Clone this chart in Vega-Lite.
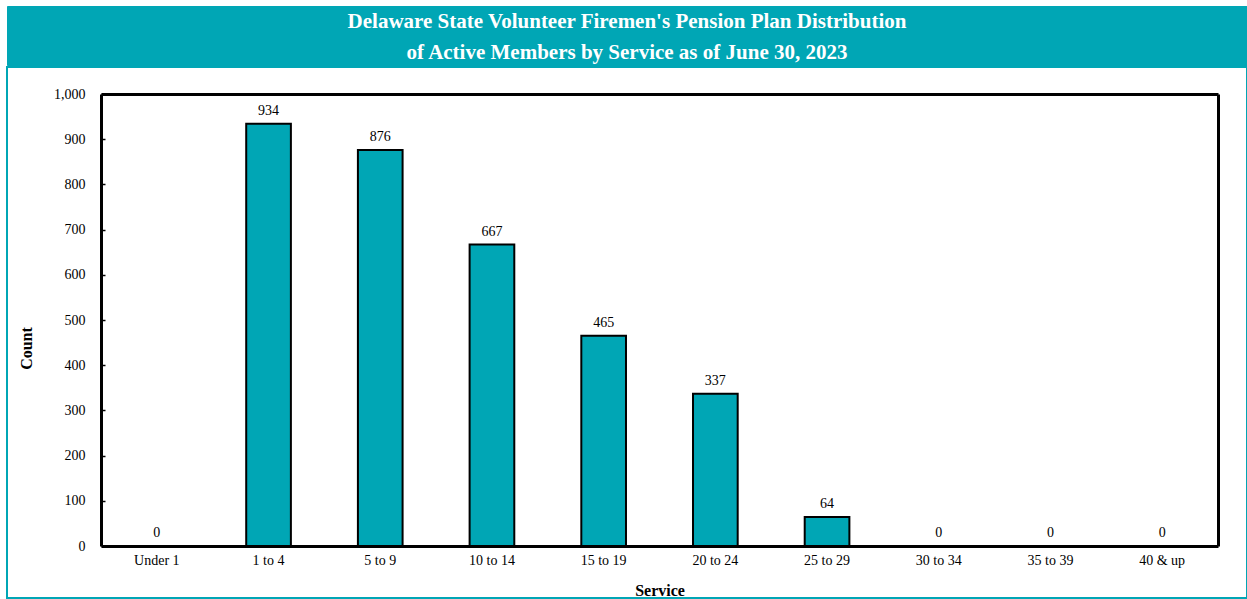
{
  "$schema": "https://vega.github.io/schema/vega-lite/v6.json",
  "padding": {"left": 6, "top": 5, "right": 0, "bottom": 0},
  "background": "white",
  "spacing": 0,
  "config": {"font": "Liberation Serif"},
  "vconcat": [
    {
      "width": 1240,
      "height": 59,
      "data": {"values": [
        {"line": 1, "text": "Delaware State Volunteer Firemen's Pension Plan Distribution"},
        {"line": 2, "text": "of Active Members by Service as of June 30, 2023"}
      ]},
      "mark": {"type": "text", "font": "Liberation Serif", "fontSize": 21, "fontWeight": "bold", "color": "white", "dy": 2},
      "encoding": {
        "y": {"field": "line", "type": "ordinal", "axis": null, "scale": {"padding": 0.45}},
        "text": {"field": "text"}
      },
      "view": {"fill": "#00A6B5", "stroke": "#00A6B5"}
    },
    {
      "width": 1240,
      "height": 531,
      "data": {"values": [
        {"service": "Under 1", "count": 0},
        {"service": "1 to 4", "count": 934},
        {"service": "5 to 9", "count": 876},
        {"service": "10 to 14", "count": 667},
        {"service": "15 to 19", "count": 465},
        {"service": "20 to 24", "count": 337},
        {"service": "25 to 29", "count": 64},
        {"service": "30 to 34", "count": 0},
        {"service": "35 to 39", "count": 0},
        {"service": "40 & up", "count": 0}
      ]},
      "layer": [
        {
          "mark": {"type": "bar", "fill": "#00A6B5", "stroke": "black", "strokeWidth": 2},
          "encoding": {
            "x": {
              "field": "service", "type": "nominal", "sort": null,
              "scale": {"paddingInner": 0.6, "paddingOuter": 0.3, "range": [94, 1211]},
              "axis": {
                "orient": "bottom", "offset": -52,
                "labelAngle": 0, "ticks": false, "domain": true,
                "domainColor": "black", "domainWidth": 3,
                "labelFont": "Liberation Serif", "labelFontSize": 14, "labelColor": "black",
                "labelPadding": 7,
                "title": "Service", "titleFont": "Liberation Serif", "titleFontSize": 16,
                "titleFontWeight": "bold", "titleColor": "black", "titlePadding": 15
              }
            },
            "y": {
              "field": "count", "type": "quantitative",
              "scale": {"domain": [0, 1000], "range": [479, 27]},
              "axis": {
                "orient": "left", "offset": -94,
                "values": [0, 100, 200, 300, 400, 500, 600, 700, 800, 900, 1000],
                "format": ",d", "grid": false,
                "domain": true, "domainColor": "black", "domainWidth": 3,
                "tickColor": "black", "tickSize": -4, "tickWidth": 1.5,
                "labelFont": "Liberation Serif", "labelFontSize": 14, "labelColor": "black",
                "labelPadding": 20,
                "title": "Count", "titleFont": "Liberation Serif", "titleFontSize": 16,
                "titleFontWeight": "bold", "titleColor": "black", "titlePadding": 19,
                "titleY": 281
              }
            }
          }
        },
        {
          "mark": {"type": "text", "dy": -13, "font": "Liberation Serif", "fontSize": 14, "color": "black"},
          "encoding": {
            "x": {
              "field": "service", "type": "nominal", "sort": null,
              "scale": {"paddingInner": 0.6, "paddingOuter": 0.3, "range": [94, 1211]},
              "axis": {
                "orient": "top", "offset": -27, "labels": false, "ticks": false,
                "domain": true, "domainColor": "black", "domainWidth": 3, "title": null
              }
            },
            "y": {
              "field": "count", "type": "quantitative",
              "scale": {"domain": [0, 1000], "range": [479, 27]},
              "axis": {
                "orient": "right", "offset": -29, "labels": false, "ticks": false, "grid": false,
                "domain": true, "domainColor": "black", "domainWidth": 3, "title": null
              }
            },
            "text": {"field": "count", "type": "quantitative"}
          }
        }
      ],
      "resolve": {"scale": {"x": "independent", "y": "independent"}, "axis": {"x": "independent", "y": "independent"}},
      "view": {"fill": "white", "stroke": "#00A6B5", "strokeWidth": 2}
    }
  ]
}
